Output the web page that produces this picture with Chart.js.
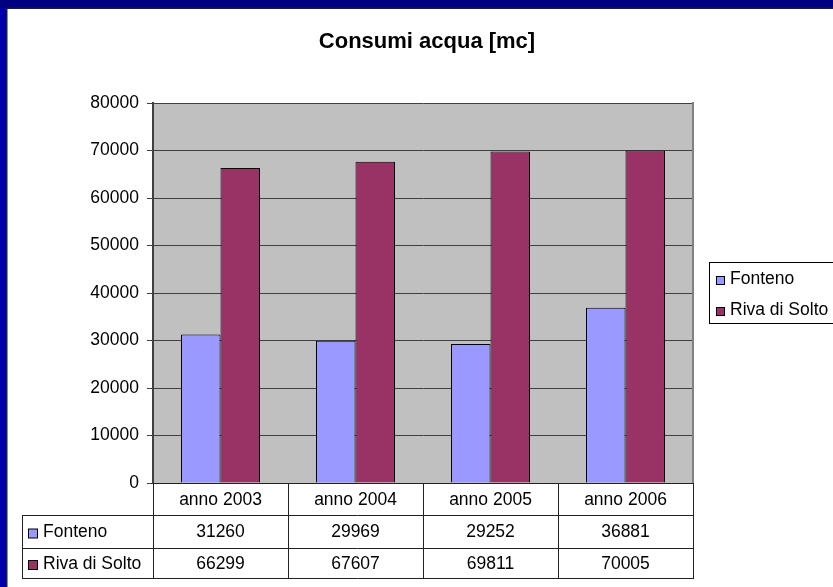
<!DOCTYPE html>
<html>
<head>
<meta charset="utf-8">
<script src="https://cdn.jsdelivr.net/npm/chart.js@4/dist/chart.umd.min.js"></script>
<style>
  html, body { margin: 0; padding: 0; background: #fff; }
  canvas { display: block; }
</style>
</head>
<body>
<canvas id="chart" width="833" height="587"></canvas>
<script>
// data
const categories = ['anno 2003', 'anno 2004', 'anno 2005', 'anno 2006'];
const seriesNames = ['Fonteno', 'Riva di Solto'];
const fonteno = [31260, 29969, 29252, 36881];
const rivaDiSolto = [66299, 67607, 69811, 70005];
const yMin = 0, yMax = 80000, yStep = 10000;
const titleText = 'Consumi acqua [mc]';

const colors = ['#9999ff', '#993366'];
const FONT = "'Liberation Sans', Arial, sans-serif";
const seriesData = [fonteno, rivaDiSolto];

// table rows below the plot (heights)
const rowH = [32, 33, 30];
const tableLeft = 22;

const framePlugin = {
    id: 'frame',
    beforeDraw(chart) {
        const ctx = chart.ctx;
        const a = chart.chartArea;
        ctx.save();
        ctx.fillStyle = '#fff';
        ctx.fillRect(0, 0, chart.width, chart.height);
        // blue slide border
        ctx.fillStyle = '#0000a8';
        ctx.fillRect(0, 0, 6, chart.height);
        ctx.fillStyle = '#000080';
        ctx.fillRect(0, 0, chart.width, 8);
        ctx.fillStyle = '#1a1a40';
        ctx.fillRect(6, 8, 1.5, chart.height);
        ctx.fillRect(6, 7.5, chart.width, 1.5);
        // plot background
        ctx.fillStyle = '#c0c0c0';
        ctx.fillRect(a.left, a.top, a.right - a.left, a.bottom - a.top);
        ctx.restore();
    },
    afterDraw(chart) {
        const ctx = chart.ctx;
        const a = chart.chartArea;
        const xs = chart.scales.x;
        const catW = xs.getPixelForValue(1) - xs.getPixelForValue(0);
        ctx.save();

        // title
        ctx.fillStyle = '#000';
        ctx.font = 'bold 22px ' + FONT;
        ctx.textAlign = 'center';
        ctx.textBaseline = 'alphabetic';
        ctx.fillText(titleText, 427, 48);

        // plot right border
        ctx.strokeStyle = '#808080';
        ctx.lineWidth = 2;
        ctx.beginPath();
        ctx.moveTo(a.right, a.top - 1);
        ctx.lineTo(a.right, a.bottom);
        ctx.stroke();

        // data table
        const y0 = a.bottom;
        const y1 = y0 + rowH[0];
        const y2 = y1 + rowH[1];
        const y3 = y2 + rowH[2];
        ctx.strokeStyle = '#222';
        ctx.lineWidth = 1;
        ctx.beginPath();
        ctx.moveTo(a.left, y0 + 0.5); ctx.lineTo(a.right, y0 + 0.5);
        [y1, y2, y3].forEach(y => { ctx.moveTo(tableLeft, y + 0.5); ctx.lineTo(a.right, y + 0.5); });
        ctx.moveTo(tableLeft + 0.5, y1); ctx.lineTo(tableLeft + 0.5, y3 + 1);
        for (let i = 0; i <= categories.length; i++) {
            const x = Math.round(a.left + i * catW) + 0.5;
            ctx.moveTo(x, y0); ctx.lineTo(x, y3 + 1);
        }
        ctx.stroke();

        ctx.font = '17.5px ' + FONT;
        ctx.fillStyle = '#000';
        ctx.textAlign = 'center';
        ctx.textBaseline = 'middle';
        categories.forEach((c, i) => {
            ctx.fillText(c, xs.getPixelForValue(i), (y0 + y1) / 2 + 1);
        });
        const rows = [[y1, y2], [y2, y3]];
        seriesNames.forEach((name, s) => {
            const cy = (rows[s][0] + rows[s][1]) / 2 + 1;
            seriesData[s].forEach((v, i) => {
                ctx.textAlign = 'center';
                ctx.fillText(String(v), xs.getPixelForValue(i), cy);
            });
            ctx.fillStyle = colors[s];
            ctx.fillRect(28.5, cy - 3.5, 9, 9);
            ctx.strokeStyle = '#000';
            ctx.strokeRect(28.5, cy - 3.5, 9, 9);
            ctx.fillStyle = '#000';
            ctx.textAlign = 'left';
            ctx.fillText(name, 43, cy);
        });

        // legend box
        ctx.strokeStyle = '#000';
        ctx.strokeRect(709.5, 262.5, 200, 61);
        const legY = [279, 310];
        seriesNames.forEach((name, s) => {
            ctx.fillStyle = colors[s];
            ctx.fillRect(716.5, legY[s] - 2.5, 8, 8);
            ctx.strokeRect(716.5, legY[s] - 2.5, 8, 8);
            ctx.fillStyle = '#000';
            ctx.textAlign = 'left';
            ctx.fillText(name, 730, legY[s]);
        });
        ctx.restore();
    }
};

new Chart(document.getElementById('chart'), {
    type: 'bar',
    data: {
        labels: categories,
        datasets: seriesNames.map((name, s) => ({
            label: name,
            data: seriesData[s],
            backgroundColor: colors[s],
            borderColor: '#000',
            borderWidth: 1,
            barPercentage: 1,
            categoryPercentage: 0.585
        }))
    },
    options: {
        responsive: false,
        animation: false,
        devicePixelRatio: 1,
        layout: { padding: { left: 0, top: 103, right: 140, bottom: 104 } },
        plugins: {
            legend: { display: false },
            title: { display: false },
            tooltip: { enabled: false }
        },
        scales: {
            x: { display: false },
            y: {
                min: yMin,
                max: yMax,
                ticks: {
                    stepSize: yStep,
                    padding: 8,
                    color: '#000',
                    font: { family: FONT, size: 17.5 },
                    callback: v => String(v)
                },
                grid: { color: '#404040', lineWidth: 1, tickLength: 6 },
                border: { color: '#404040', width: 2 },
                afterFit(scale) { scale.width = 153; }
            }
        }
    },
    plugins: [framePlugin]
});
</script>
</body>
</html>
